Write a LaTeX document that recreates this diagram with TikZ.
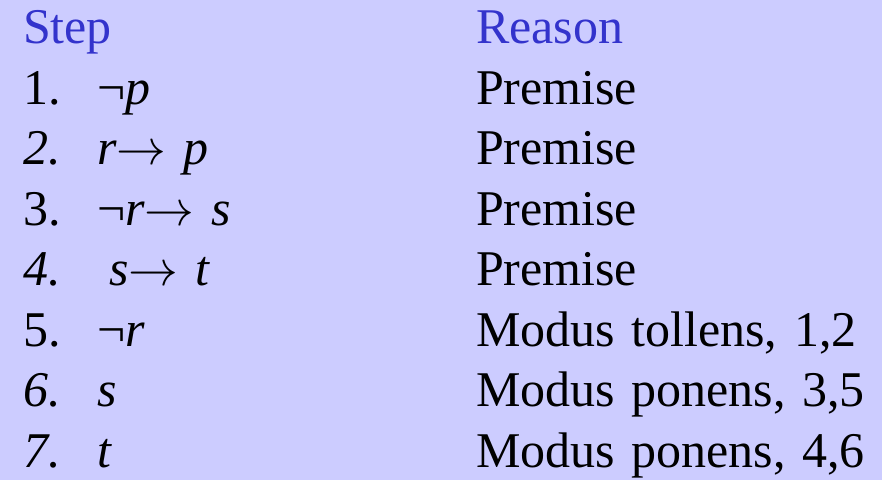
\documentclass[tikz,border=0pt]{standalone}
\usepackage{fontspec}
\setmainfont{Liberation Serif}
\usetikzlibrary{positioning}
\definecolor{slidebg}{RGB}{204,204,255}
\definecolor{headblue}{RGB}{51,51,204}
\newcommand{\impl}{\scalebox{2}{\fontsize{24.88}{30}\selectfont$\rightarrow$}}

\begin{document}
\begin{tikzpicture}[x=1pt,y=1pt]
    \tikzset{cell/.style= {inner sep=0pt, outer sep=0pt
    , node distance=0pt
    , text height=42pt, text depth=18.5pt
    , align=left
    , font=\fontsize{50}{60}\selectfont
      }
    , num/.style={cell, text width=74pt}
    , formula/.style={cell, text width=379pt}
    , reason/.style={cell, text width=400pt}
    , head/.style={cell, text=headblue}
    }

\fill [slidebg] (0,0) rectangle (882,-480);
\useasboundingbox (0,0) rectangle (882,-480);

\node [head, text width=453pt, anchor=north west] (step) at (23,-1.5) {Step};
\node [head, text width=400pt, right=0pt of step] (reason) {Reason};

\node [num, below=0pt of step.south west, anchor=north west] (n1) {1.};
\node [formula, right=0pt of n1] (f1) {¬\textit{p}};
\node [reason, right=0pt of f1] (r1) {Premise};

\node [num, below=0pt of n1] (n2) {\textit{2.}};
\node [formula, right=0pt of n2] (f2) {\textit{r}\impl{} \textit{p}};
\node [reason, right=0pt of f2] (r2) {Premise};

\node [num, below=0pt of n2] (n3) {3.};
\node [formula, right=0pt of n3] (f3) {¬\textit{r}\impl{} \textit{s}};
\node [reason, right=0pt of f3] (r3) {Premise};

\node [num, below=0pt of n3] (n4) {\textit{4.}};
\node [formula, right=0pt of n4] (f4) {\hspace*{12.5pt}\textit{s}\impl{} \textit{t}};
\node [reason, right=0pt of f4] (r4) {Premise};

\node [num, below=0pt of n4] (n5) {5.};
\node [formula, right=0pt of n5] (f5) {¬\textit{r}};
\node [reason, right=0pt of f5] (r5) {Modus tollens, 1,2};

\node [num, below=0pt of n5] (n6) {\textit{6.}};
\node [formula, right=0pt of n6] (f6) {\textit{s}};
\node [reason, right=0pt of f6] (r6) {Modus ponens, 3,5};

\node [num, below=0pt of n6] (n7) {\textit{7.}};
\node [formula, right=0pt of n7] (f7) {\textit{t}};
\node [reason, right=0pt of f7] (r7) {Modus ponens, 4,6};
\end{tikzpicture}
\end{document}
